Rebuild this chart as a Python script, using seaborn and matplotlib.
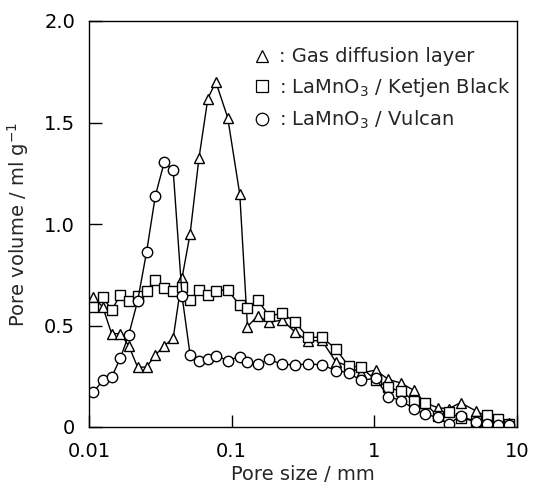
import matplotlib
matplotlib.use("Agg")
import matplotlib.pyplot as plt
from matplotlib.lines import Line2D
from matplotlib.ticker import FixedLocator, FixedFormatter, NullLocator
import seaborn as sns
import pandas as pd

# ---- data ----
pore_size = [0.0107, 0.0125, 0.0144, 0.0166, 0.019, 0.0219, 0.0253, 0.0292, 0.0337, 0.0389,
             0.0449, 0.0511, 0.059, 0.0681, 0.0774, 0.0938, 0.114, 0.129, 0.152, 0.184,
             0.226, 0.278, 0.343, 0.428, 0.536, 0.66, 0.80, 1.02, 1.25, 1.54,
             1.90, 2.26, 2.78, 3.32, 4.02, 5.19, 6.19, 7.38, 8.8]

gas_diffusion = [0.642, 0.59, 0.46, 0.46, 0.40, 0.295, 0.295, 0.355, 0.40, 0.437,
                 0.735, 0.95, 1.325, 1.618, 1.70, 1.524, 1.146, 0.495, 0.546, 0.516,
                 0.527, 0.468, 0.423, 0.427, 0.322, 0.30, 0.266, 0.28, 0.235, 0.216,
                 0.18, 0.12, 0.095, 0.09, 0.12, 0.078, 0.05, 0.03, 0.018]

ketjen = [0.59, 0.64, 0.576, 0.65, 0.62, 0.647, 0.67, 0.725, 0.685, 0.672,
          0.69, 0.627, 0.675, 0.652, 0.672, 0.675, 0.60, 0.585, 0.625, 0.546,
          0.561, 0.516, 0.442, 0.442, 0.386, 0.30, 0.296, 0.232, 0.195, 0.175,
          0.13, 0.117, 0.055, 0.075, 0.043, 0.028, 0.058, 0.038, 0.015]

vulcan = [0.17, 0.23, 0.245, 0.34, 0.455, 0.62, 0.86, 1.14, 1.305, 1.265,
          0.645, 0.357, 0.327, 0.333, 0.352, 0.327, 0.347, 0.32, 0.31, 0.333,
          0.308, 0.307, 0.31, 0.307, 0.278, 0.268, 0.23, 0.24, 0.15, 0.13,
          0.089, 0.063, 0.048, 0.015, 0.055, 0.025, 0.013, 0.01, 0.01]

series_names = ["Gas diffusion layer", "LaMnO3 / Ketjen Black", "LaMnO3 / Vulcan"]
legend_labels = [": Gas diffusion layer",
                 r": LaMnO$\mathregular{_3}$ / Ketjen Black",
                 r": LaMnO$\mathregular{_3}$ / Vulcan"]
x_ticks = [0.01, 0.1, 1, 10]
x_ticklabels = ["0.01", "0.1", "1", "10"]
y_ticks = [0, 0.5, 1.0, 1.5, 2.0]
y_ticklabels = ["0", "0.5", "1.0", "1.5", "2.0"]

# ---- long-form table ----
frames = []
for name, vals in zip(series_names, [gas_diffusion, ketjen, vulcan]):
    frames.append(pd.DataFrame({"size": pore_size, "volume": vals, "sample": name}))
df = pd.concat(frames, ignore_index=True)

sns.set_style("ticks")
plt.rcParams["font.family"] = ["DejaVu Sans"]
plt.rcParams["mathtext.fontset"] = "custom"
plt.rcParams["mathtext.rm"] = "DejaVu Sans"

FS = 14
fig = plt.figure(figsize=(5.36, 4.92), dpi=100)
ax = fig.add_axes([89 / 536, 65 / 492, 428 / 536, 406 / 492])

markers = {series_names[0]: "^", series_names[1]: "s", series_names[2]: "o"}
sns.lineplot(data=df, x="size", y="volume", style="sample", markers=markers,
             dashes=False, color="black", estimator=None, sort=False,
             linewidth=1.0, markersize=7.5, markerfacecolor="white",
             markeredgecolor="black", markeredgewidth=1.0, legend=False, ax=ax)

ax.set_xscale("log")
ax.set_xlim(0.01, 10)
ax.set_ylim(0, 2.0)
ax.xaxis.set_major_locator(FixedLocator(x_ticks))
ax.xaxis.set_major_formatter(FixedFormatter(x_ticklabels))
ax.xaxis.set_minor_locator(NullLocator())
ax.yaxis.set_major_locator(FixedLocator(y_ticks))
ax.yaxis.set_major_formatter(FixedFormatter(y_ticklabels))

ax.tick_params(axis="both", which="major", direction="in", length=9, width=1.0,
               labelsize=FS, colors="black")
ax.tick_params(axis="x", pad=11)
ax.tick_params(axis="y", pad=10)
for sp in ax.spines.values():
    sp.set_color("black")
    sp.set_linewidth(1.0)

ax.set_xlabel("Pore size / mm", fontsize=FS, labelpad=3)
ax.set_ylabel(r"Pore volume / ml g$\mathregular{^{-1}}$", fontsize=FS, labelpad=9)

handles = [Line2D([], [], linestyle="none", marker=m, markersize=9,
                  markerfacecolor="white", markeredgecolor="black", markeredgewidth=0.9)
           for m in ["^", "s", "o"]]
ax.legend(handles, legend_labels, loc="upper left", bbox_to_anchor=(0.385, 0.935),
          frameon=False, fontsize=FS, handlelength=0.8, handletextpad=0.5,
          labelspacing=0.5, borderpad=0, borderaxespad=0)

fig.savefig("out.png", dpi=100)
